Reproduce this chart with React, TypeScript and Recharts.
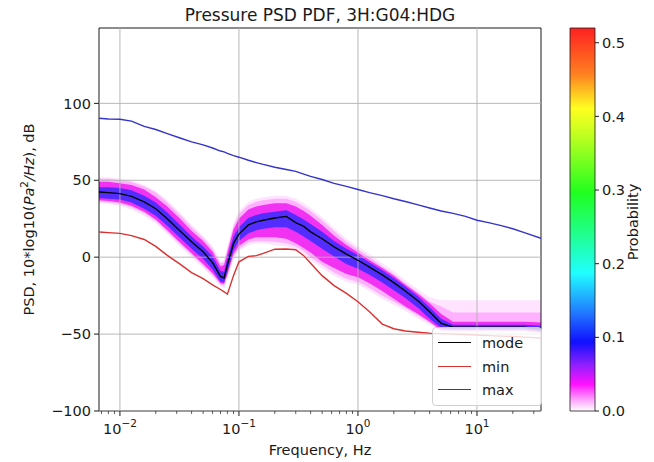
import React from 'react';
import { ComposedChart, Area, Line, XAxis, YAxis, ReferenceLine, ReferenceArea, Label, BarChart, Bar } from 'recharts';

const FONT = '"DejaVu Sans", Verdana, sans-serif';
const INK = '#1a1a1a';

// frequency bins (Hz)
const freqs = [
  0.00667, 0.008, 0.01, 0.0125, 0.016, 0.02, 0.025, 0.032, 0.04, 0.05, 0.06, 0.07, 0.075, 0.08, 0.09,
  0.1, 0.12, 0.14, 0.16, 0.2, 0.25, 0.3, 0.35, 0.4, 0.5, 0.63, 0.8, 1.0, 1.25, 1.6, 2.0, 2.5, 3.2, 4.0,
  5.0, 6.3, 8.0, 10, 12.5, 16, 20, 25, 34.5,
];

const modeDb = [
  42.4, 42, 41.3, 39.5, 36, 31.5, 25, 17, 10, 3.5, -3.5, -12.5, -13.5, -5, 9,
  15, 21, 23, 24, 25.5, 26.5, 22.5, 20, 16.5, 12, 6.7, 2, -2, -6.5, -11.5, -16.5, -22, -28.5, -35.5,
  -43, -45.5, -45.5, -45.5, -45.5, -45.5, -45.5, -45.5, -47,
];

const minDb = [
  16.4, 16, 15.5, 14, 11.5, 7, 1.2, -4.5, -10, -14, -18, -21, -22.5, -24, -12,
  -3, 0.5, 1, 2.5, 5.2, 5.3, 4.8, 1, -4, -12, -18.5, -23.5, -29, -35.5, -43.5, -46.5, -48, -48.8, -49.4,
  -49.7, -50, -50.3, -50.6, -51, -51.3, -51.6, -52, -52.5,
];

const maxDb = [
  90.3, 89.8, 89.7, 88.5, 85, 83, 80.3, 77.5, 75, 73, 71, 69, 68.5, 67.5, 66,
  65, 63, 61.5, 60.3, 58.5, 57, 55.8, 54, 52.5, 50.5, 48, 46, 44, 42, 40, 38, 36.2, 34, 32,
  30, 28.5, 26.5, 24, 22.5, 20.5, 18.5, 16, 12.3,
];

// probability density envelopes (low / high edges of each shade)
const hazeHigh = [
  52, 52, 51, 50, 47, 43, 37, 29, 21, 14, 7, -3, -2, 7, 22,
  30, 36, 38, 39, 40, 40, 38, 35, 32, 26, 19, 12, 7, 2, -4, -9, -15, -21, -26,
  -28, -28, -28, -28, -28, -28, -28, -28, -28,
];
const hazeLow = [
  35, 34.5, 33.5, 31, 27, 22, 15, 7, 0, -7, -13, -19, -20, -14, -1,
  4, 8, 9, 9, 8, 7, 5, 2, -2, -7, -12, -16, -18, -22, -27, -31, -35, -40, -44,
  -48.5, -48.5, -48.5, -48.5, -48.5, -48.5, -48.5, -48.5, -49.5,
];
const outerHigh = [
  51, 51, 50, 49, 46, 42, 35.5, 27.5, 19.5, 12.5, 5.5, -4, -3.5, 5.5, 20,
  28, 34, 36, 37, 38, 38, 36, 33, 30, 24, 17, 10, 5, 0, -6, -11, -17, -23, -29,
  -32, -36, -36, -36, -36, -36, -36, -36, -36,
];
const outerLow = [
  36, 35.5, 34.5, 32.5, 28.5, 23.5, 16.5, 8.5, 1.5, -5.5, -11.5, -18, -18.5, -12.5, 0.5,
  5.5, 9.5, 10.5, 10.5, 10, 9, 7, 4, 0, -5, -10, -14, -16, -20, -25, -29, -33, -38, -42.5,
  -47.5, -48, -48, -48, -48, -48, -48, -48, -49,
];
const midHigh = [
  49, 49, 48, 47, 44, 39, 33, 25, 17, 10.5, 3.5, -6, -5, 3, 18,
  25, 31, 33, 34, 35, 35, 33, 30, 27, 21, 14, 8, 3, -2, -7, -12, -18, -24, -30,
  -37, -42, -42, -42, -42, -42, -42, -42, -42.5,
];
const midLow = [
  37, 36.5, 35.5, 33.5, 29.5, 24.5, 17.5, 9.5, 2.5, -4.5, -10.5, -17, -17.5, -11, 2,
  7.5, 11.5, 13, 13, 13, 12, 9, 6, 3, -3, -7, -11, -13, -17, -22, -27, -32, -37, -42,
  -47.5, -47.5, -47.5, -47.5, -47.5, -47.5, -47.5, -47.5, -49,
];
const coreHigh = [
  45.5, 45.5, 45, 43.5, 40, 35.5, 29, 21, 13.5, 7, 0.5, -9, -9.5, -0.5, 13.5,
  19.5, 25.5, 27.5, 28.5, 29.5, 30.5, 27.5, 24.5, 21.5, 16.5, 10.5, 5.5, 1.5, -3.5, -8.5, -13.5, -19, -25.5, -32.5,
  -40, -44, -44, -44, -44, -44, -44, -44, -44.5,
];
const coreLow = [
  38.5, 38, 37.5, 35.5, 31.5, 27, 20.5, 12.5, 5.5, -1, -8, -16, -16.5, -9.5, 4.5,
  10.5, 15.5, 17.5, 18.5, 19.5, 19.5, 16.5, 13.5, 10.5, 5.5, 0.5, -4.5, -7.5, -11.5, -16.5, -21.5, -26.5, -33, -40,
  -46, -47, -47, -47, -47, -47, -47, -47, -48,
];

const xMajorTicks = [0.01, 0.1, 1, 10];
const xMinorTicks = [
  0.007, 0.008, 0.009, 0.02, 0.03, 0.04, 0.05, 0.06, 0.07, 0.08, 0.09,
  0.2, 0.3, 0.4, 0.5, 0.6, 0.7, 0.8, 0.9, 2, 3, 4, 5, 6, 7, 8, 9, 20, 30,
];
const yTicks = [-100, -50, 0, 50, 100];
const probTicks = [0, 0.1, 0.2, 0.3, 0.4, 0.5];
const probMax = 0.52;

const xDomain = [0.00667, 34.5];
const yDomain = [-100, 149];

const rows = freqs.map((f, i) => ({
  f,
  mode: modeDb[i],
  min: minDb[i],
  max: maxDb[i],
  haze: [hazeLow[i], hazeHigh[i]],
  outer: [outerLow[i], outerHigh[i]],
  mid: [midLow[i], midHigh[i]],
  core: [coreLow[i], coreHigh[i]],
}));

const legendItems = [
  { name: 'mode', color: '#000000' },
  { name: 'min', color: '#dc3030' },
  { name: 'max', color: '#3434cc' },
];

const minus = (v: number | string) => String(v).replace('-', '\u2212');

const FreqTick = (props: any) => {
  const { x, y, payload } = props;
  const major = xMajorTicks.includes(payload.value);
  const exp = Math.round(Math.log10(payload.value));
  return (
    <g>
      <line x1={x} x2={x} y1={y} y2={y + (major ? 5 : 3)} stroke={INK} strokeWidth={major ? 1 : 0.7} />
      {major && (
        <text x={x} y={y + 23} textAnchor="middle" fill={INK} fontSize={14.5} fontFamily={FONT}>
          <tspan>10</tspan>
          <tspan dy={-7} fontSize={10.5}>{minus(exp)}</tspan>
        </text>
      )}
    </g>
  );
};

const YTitle = () => (
  <text
    x={34}
    y={219.5}
    transform="rotate(-90, 34, 219.5)"
    textAnchor="middle"
    fill={INK}
    fontSize={14.5}
    fontFamily={FONT}
  >
    <tspan>PSD, 10*log10(</tspan>
    <tspan fontStyle="italic">Pa</tspan>
    <tspan dy={-6} fontSize={10.5}>2</tspan>
    <tspan dy={6} fontStyle="italic">/Hz</tspan>
    <tspan>), dB</tspan>
  </text>
);

const ProbTitle = () => (
  <text
    x={97.5}
    y={222}
    transform="rotate(-90, 97.5, 222)"
    textAnchor="middle"
    fill={INK}
    fontSize={14.5}
    fontFamily={FONT}
  >
    Probability
  </text>
);

export default function App() {
  return (
    <div style={{ position: 'absolute', left: 0, top: 0, width: 654, height: 462, background: '#fff', fontFamily: FONT }}>
      <div style={{ position: 'absolute', left: 0, top: 5, width: 640, textAlign: 'center', fontSize: 17, lineHeight: '20px', color: INK }}>
        Pressure PSD PDF, 3H:G04:HDG
      </div>

      <div style={{ position: 'absolute', left: 0, top: 0 }}>
        <ComposedChart width={560} height={462} data={rows} margin={{ top: 28, right: 19, bottom: 0, left: 0 }}>
          <XAxis
            dataKey="f"
            type="number"
            scale="log"
            domain={xDomain}
            allowDataOverflow
            ticks={[...xMinorTicks, ...xMajorTicks].sort((a, b) => a - b)}
            interval={0}
            tick={<FreqTick />}
            tickLine={false}
            tickSize={0}
            tickMargin={0}
            axisLine={false}
            height={51}
          />
          <YAxis
            type="number"
            domain={yDomain}
            allowDataOverflow
            ticks={yTicks}
            width={99}
            tickFormatter={minus}
            tick={{ fill: INK, fontSize: 14.5, fontFamily: FONT }}
            tickLine={{ stroke: INK }}
            tickSize={5}
            tickMargin={3}
            axisLine={false}
          >
            <Label content={<YTitle />} />
          </YAxis>

          <Area type="linear" dataKey="haze" stroke="none" fill="#ffc8ff" fillOpacity={0.5} isAnimationActive={false} />
          <Area type="linear" dataKey="outer" stroke="none" fill="#ff90ff" fillOpacity={0.6} isAnimationActive={false} />
          <Area type="linear" dataKey="mid" stroke="none" fill="#f020f0" fillOpacity={0.88} isAnimationActive={false} />
          <Area type="linear" dataKey="core" stroke="none" fill="#4a2cff" fillOpacity={0.95} isAnimationActive={false} />

          {xMajorTicks.map((t) => (
            <ReferenceLine key={'gx' + t} x={t} stroke="#b0b0b0" strokeWidth={0.9} />
          ))}
          {yTicks.map((t) => (
            <ReferenceLine key={'gy' + t} y={t} stroke="#b0b0b0" strokeWidth={0.9} />
          ))}

          <Line type="linear" dataKey="min" stroke={legendItems[1].color} strokeWidth={1.4} dot={false} isAnimationActive={false} />
          <Line type="linear" dataKey="max" stroke={legendItems[2].color} strokeWidth={1.4} dot={false} isAnimationActive={false} />
          <Line type="linear" dataKey="mode" stroke={legendItems[0].color} strokeWidth={1.4} dot={false} isAnimationActive={false} />

          <ReferenceArea
            x1={xDomain[0]}
            x2={xDomain[1]}
            y1={yDomain[0]}
            y2={yDomain[1]}
            fill="none"
            fillOpacity={0}
            stroke={INK}
            strokeWidth={1}
          />
        </ComposedChart>
      </div>

      <div style={{ position: 'absolute', left: 540, top: 0 }}>
        <BarChart width={114} height={462} data={[{ k: 'prob', v: probMax }]} margin={{ top: 28, right: 0, bottom: 51, left: 30 }} barCategoryGap={0}>
          <defs>
            <linearGradient id="pqlx" x1="0" y1="1" x2="0" y2="0">
              <stop offset="0" stopColor="#ffffff" />
              <stop offset="0.03" stopColor="#ffa0ff" />
              <stop offset="0.07" stopColor="#ff10ff" />
              <stop offset="0.12" stopColor="#9020ff" />
              <stop offset="0.18" stopColor="#1010ff" />
              <stop offset="0.25" stopColor="#2070ff" />
              <stop offset="0.36" stopColor="#20ffff" />
              <stop offset="0.46" stopColor="#20ff90" />
              <stop offset="0.57" stopColor="#20ff20" />
              <stop offset="0.72" stopColor="#c0ff20" />
              <stop offset="0.79" stopColor="#ffff20" />
              <stop offset="0.88" stopColor="#ff8020" />
              <stop offset="1" stopColor="#ff2020" />
            </linearGradient>
          </defs>
          <XAxis dataKey="k" hide />
          <YAxis
            orientation="right"
            type="number"
            domain={[0, probMax]}
            ticks={probTicks}
            width={59}
            tickFormatter={(v: number) => v.toFixed(1)}
            tick={{ fill: INK, fontSize: 14.5, fontFamily: FONT }}
            tickLine={{ stroke: INK }}
            tickSize={4}
            tickMargin={3}
            axisLine={false}
          >
            <Label content={<ProbTitle />} />
          </YAxis>
          <Bar dataKey="v" fill="url(#pqlx)" stroke={INK} strokeWidth={0.8} isAnimationActive={false} />
        </BarChart>
      </div>

      <div style={{ position: 'absolute', left: 0, top: 441, width: 640, textAlign: 'center', fontSize: 14.5, lineHeight: '18px', color: INK }}>
        Frequency, Hz
      </div>

      <div
        style={{
          position: 'absolute',
          left: 432,
          top: 327,
          width: 108,
          height: 77,
          background: 'rgba(255,255,255,0.8)',
          border: '1px solid #d0d0d0',
          borderRadius: 4,
        }}
      >
        {legendItems.map((it, i) => (
          <div key={it.name} style={{ position: 'absolute', left: 0, top: 5 + i * 23.5, height: 20, width: 108 }}>
            <div style={{ position: 'absolute', left: 5, top: 9, width: 33, height: 0, borderTop: `1.5px solid ${it.color}` }} />
            <div style={{ position: 'absolute', left: 49, top: 0, fontSize: 14.5, lineHeight: '20px', color: INK }}>{it.name}</div>
          </div>
        ))}
      </div>
    </div>
  );
}
